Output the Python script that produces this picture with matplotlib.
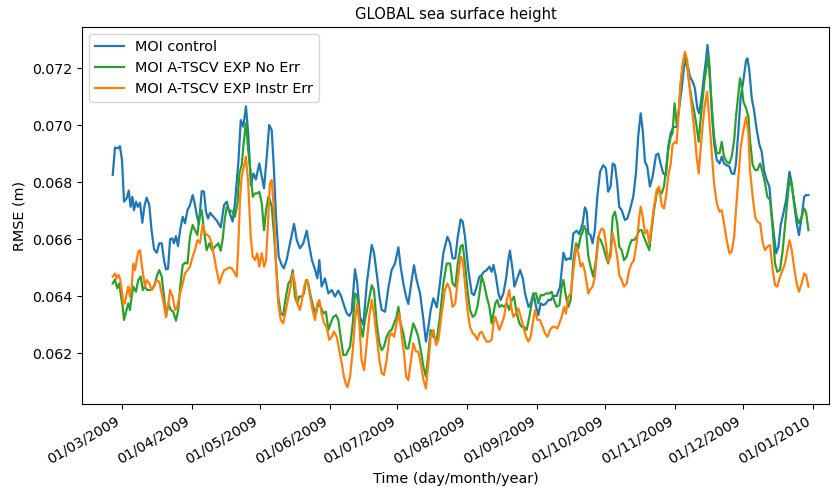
import datetime as dt
import matplotlib
matplotlib.use("Agg")
import matplotlib.pyplot as plt
import matplotlib.dates as mdates

# ---------------- data (days since 01/03/2009, RMSE in m) ----------------
ctrl_days = [-4.1, -3.1, -1.6, -0.9, 0.0, 0.9, 2.1, 3.0, 3.8, 4.6, 5.3, 6.2, 7.0, 8.0, 9.0, 9.9, 10.9, 12.1, 13.1, 14.2,
             15.4, 16.5, 17.6, 18.6, 19.5, 20.4, 21.3, 22.3, 23.0, 23.9, 24.8, 25.8, 26.9, 27.9, 29.0, 30.1, 31.3, 32.2, 33.1, 34.1,
             35.3, 36.3, 37.2, 38.1, 39.0, 40.5, 42.0, 43.7, 45.2, 46.4, 47.5, 49.0, 50.0, 51.5, 52.6, 53.7, 54.9, 55.9, 57.1, 58.2,
             59.3, 60.8, 61.9, 62.9, 64.1, 65.2, 66.3, 67.3, 68.2, 69.4, 70.7, 71.7, 72.9, 74.4, 76.2, 77.4, 78.8, 80.3, 81.8, 83.0,
             84.1, 85.5, 86.5, 87.4, 88.4, 89.9, 91.4, 92.9, 94.3, 95.8, 97.0, 98.0, 99.5, 100.7, 101.7, 103.2, 104.2, 105.4, 106.9, 108.4,
             110.6, 111.6, 112.8, 114.0, 115.0, 116.5, 118.0, 119.4, 120.9, 122.4, 123.4, 124.6, 125.8, 126.8, 128.3, 129.3, 130.5, 132.0, 133.5, 134.6,
             135.7, 136.7, 137.9, 139.4, 140.8, 142.3, 144.1, 145.3, 146.4, 147.6, 148.7, 150.0, 150.9, 151.9, 153.4, 154.9, 155.9, 157.1, 158.3, 159.3,
             160.3, 161.5, 162.7, 163.7, 164.5, 165.6, 166.7, 167.7, 168.9, 170.1, 171.1, 171.8, 173.0, 173.8, 174.8, 176.3, 177.5, 178.5, 180.0, 181.0,
             182.2, 183.4, 184.4, 185.4, 186.6, 187.8, 188.8, 189.9, 191.0, 192.5, 194.0, 195.5, 196.6, 197.7, 198.7, 199.9, 201.4, 202.5, 204.0, 205.0,
             205.8, 206.5, 207.5, 208.4, 209.4, 210.5, 211.7, 213.1, 214.3, 215.3, 216.4, 217.3, 218.3, 219.3, 220.2, 221.3, 222.7, 223.8, 224.9, 226.4,
             227.6, 228.6, 229.7, 230.6, 231.6, 232.6, 233.8, 235.0, 236.5, 237.5, 238.5, 239.7, 240.9, 241.9, 243.0, 244.1, 245.6, 246.8, 247.8, 248.9,
             249.7, 250.8, 251.5, 252.7, 253.7, 254.8, 255.6, 256.7, 257.7, 258.6, 259.3, 260.1, 261.2, 262.2, 263.4, 264.6, 265.6, 266.6, 267.8, 269.0,
             270.0, 271.1, 271.9, 273.0, 274.0, 275.2, 276.4, 277.0, 277.8, 278.9, 279.9, 281.1, 282.3, 283.3, 284.3, 285.5, 286.7, 287.7, 288.8, 289.7,
             290.7, 291.7, 292.9, 294.1, 295.6, 296.6, 297.6, 298.8, 299.8, 301.0, 302.1, 302.9, 304.0]
ctrl_vals = [0.06825, 0.06921, 0.06918, 0.06926, 0.06877, 0.06731, 0.06743, 0.06770, 0.06713, 0.06748, 0.06701, 0.06731, 0.06713, 0.06727, 0.06657, 0.06713, 0.06745, 0.06719, 0.06631, 0.06564,
             0.06552, 0.06585, 0.06585, 0.06526, 0.06493, 0.06496, 0.06599, 0.06602, 0.06585, 0.06610, 0.06575, 0.06634, 0.06678, 0.06655, 0.06701, 0.06719, 0.06754, 0.06725, 0.06684, 0.06653,
             0.06768, 0.06766, 0.06696, 0.06672, 0.06692, 0.06678, 0.06664, 0.06641, 0.06719, 0.06731, 0.06696, 0.06661, 0.06725, 0.06865, 0.07017, 0.06994, 0.07066, 0.06971, 0.06789, 0.06830,
             0.06809, 0.06865, 0.06819, 0.06778, 0.06889, 0.07000, 0.06982, 0.06842, 0.06678, 0.06538, 0.06509, 0.06497, 0.06526, 0.06585, 0.06653, 0.06596, 0.06567, 0.06585, 0.06629, 0.06573,
             0.06526, 0.06493, 0.06462, 0.06526, 0.06433, 0.06462, 0.06409, 0.06421, 0.06398, 0.06419, 0.06400, 0.06375, 0.06340, 0.06330, 0.06345, 0.06494, 0.06444, 0.06327, 0.06298, 0.06444,
             0.06579, 0.06552, 0.06479, 0.06398, 0.06351, 0.06345, 0.06430, 0.06491, 0.06514, 0.06571, 0.06503, 0.06444, 0.06398, 0.06372, 0.06456, 0.06508, 0.06456, 0.06409, 0.06316, 0.06240,
             0.06292, 0.06351, 0.06392, 0.06360, 0.06444, 0.06550, 0.06608, 0.06585, 0.06532, 0.06532, 0.06608, 0.06669, 0.06661, 0.06608, 0.06491, 0.06409, 0.06403, 0.06433, 0.06468, 0.06474,
             0.06485, 0.06491, 0.06503, 0.06485, 0.06509, 0.06468, 0.06409, 0.06386, 0.06409, 0.06462, 0.06526, 0.06559, 0.06491, 0.06433, 0.06456, 0.06491, 0.06462, 0.06409, 0.06362, 0.06374,
             0.06409, 0.06362, 0.06333, 0.06374, 0.06368, 0.06374, 0.06386, 0.06386, 0.06400, 0.06400, 0.06433, 0.06552, 0.06526, 0.06532, 0.06529, 0.06620, 0.06629, 0.06617, 0.06655, 0.06711,
             0.06696, 0.06620, 0.06614, 0.06585, 0.06631, 0.06748, 0.06836, 0.06859, 0.06848, 0.06766, 0.06784, 0.06865, 0.06859, 0.06795, 0.06713, 0.06701, 0.06667, 0.06672, 0.06701, 0.06748,
             0.06830, 0.06959, 0.07041, 0.06982, 0.06871, 0.06854, 0.06784, 0.06819, 0.06895, 0.06900, 0.06865, 0.06830, 0.06824, 0.06924, 0.06971, 0.06992, 0.06994, 0.07064, 0.07123, 0.07204,
             0.07222, 0.07199, 0.07170, 0.07152, 0.07129, 0.07058, 0.07041, 0.07099, 0.07170, 0.07228, 0.07281, 0.07216, 0.07041, 0.06936, 0.06877, 0.06865, 0.06889, 0.06865, 0.06859, 0.06854,
             0.06830, 0.06828, 0.06865, 0.06982, 0.07099, 0.07158, 0.07228, 0.07234, 0.07193, 0.07093, 0.07052, 0.06982, 0.06930, 0.06906, 0.06842, 0.06807, 0.06784, 0.06690, 0.06608, 0.06550,
             0.06573, 0.06649, 0.06690, 0.06737, 0.06836, 0.06795, 0.06725, 0.06655, 0.06614, 0.06678, 0.06748, 0.06754, 0.06754]

noerr_days = [-4.1, -3.1, -2.1, -1.2, -0.6, 0.3, 0.9, 1.8, 2.8, 3.5, 4.3, 5.0, 6.2, 7.2, 8.3, 9.2, 10.2, 11.2, 12.4, 13.6,
              14.6, 15.6, 16.5, 17.6, 18.6, 19.5, 20.5, 21.6, 22.7, 23.9, 24.9, 25.8, 26.9, 27.9, 29.0, 30.1, 31.3, 32.3, 33.4, 34.3,
              35.3, 36.3, 37.5, 38.7, 39.9, 41.2, 42.7, 43.7, 44.6, 45.5, 46.4, 47.5, 49.0, 50.0, 51.1, 52.0, 53.0, 54.0, 54.9, 55.9,
              57.0, 57.9, 58.9, 59.9, 60.8, 61.9, 62.9, 63.8, 64.8, 65.5, 66.3, 67.3, 68.2, 69.2, 70.3, 71.4, 72.6, 73.7, 74.7, 75.6,
              76.6, 77.6, 78.5, 79.6, 80.6, 81.5, 82.5, 83.6, 84.7, 85.9, 86.9, 88.0, 89.2, 90.3, 91.4, 92.4, 93.6, 94.8, 95.8, 96.8,
              98.0, 99.2, 100.2, 101.0, 102.2, 103.2, 104.2, 105.4, 106.6, 107.6, 109.1, 110.6, 111.6, 112.8, 114.0, 115.0, 116.0, 117.2, 118.4, 119.4,
              120.5, 121.6, 122.4, 123.4, 124.6, 125.8, 126.8, 127.8, 129.0, 130.2, 131.2, 132.3, 133.5, 134.6, 135.7, 136.7, 137.9, 139.4, 140.8, 142.3,
              143.8, 145.3, 146.4, 147.6, 148.7, 150.0, 150.9, 151.9, 153.0, 154.1, 155.3, 156.3, 157.4, 158.3, 159.3, 160.3, 161.5, 162.7, 163.7, 164.5,
              165.3, 166.2, 167.1, 168.2, 169.2, 170.4, 171.5, 172.6, 173.6, 174.8, 176.0, 177.0, 178.0, 179.2, 180.4, 181.4, 182.5, 183.4, 184.4, 185.4,
              186.6, 187.8, 189.3, 190.3, 191.3, 192.5, 193.7, 194.7, 195.5, 196.6, 197.7, 198.7, 199.9, 201.1, 202.1, 203.1, 204.0, 204.6, 205.5, 206.5,
              207.5, 208.7, 209.9, 210.9, 212.0, 213.1, 214.3, 215.3, 216.4, 217.3, 218.3, 219.3, 220.2, 221.3, 222.3, 223.5, 224.6, 225.7, 226.7, 227.9,
              229.1, 230.1, 231.1, 232.3, 233.5, 234.5, 235.6, 236.8, 237.9, 239.0, 240.0, 240.9, 241.9, 243.0, 243.8, 244.7, 245.6, 246.5, 247.4, 248.3,
              249.3, 250.3, 251.2, 252.3, 253.3, 254.5, 255.4, 256.2, 257.1, 258.0, 258.9, 259.6, 260.1, 261.2, 262.2, 263.4, 264.6, 265.6, 266.6, 267.8,
              269.0, 270.0, 271.1, 271.9, 273.0, 273.7, 274.5, 275.2, 276.4, 277.4, 278.1, 279.3, 280.4, 281.4, 282.6, 283.8, 284.8, 285.8, 287.0, 288.2,
              289.2, 290.2, 291.4, 292.6, 293.6, 294.7, 295.6, 296.6, 297.6, 298.8, 299.8, 301.0, 302.1, 302.9, 304.0]
noerr_vals = [0.06444, 0.06458, 0.06427, 0.06444, 0.06409, 0.06362, 0.06316, 0.06345, 0.06374, 0.06351, 0.06398, 0.06433, 0.06415, 0.06456, 0.06468, 0.06421, 0.06433, 0.06421, 0.06421, 0.06427,
              0.06444, 0.06474, 0.06491, 0.06468, 0.06398, 0.06327, 0.06374, 0.06351, 0.06345, 0.06313, 0.06351, 0.06433, 0.06509, 0.06517, 0.06514, 0.06608, 0.06649, 0.06631, 0.06614, 0.06678,
              0.06701, 0.06631, 0.06561, 0.06585, 0.06561, 0.06573, 0.06585, 0.06559, 0.06600, 0.06670, 0.06713, 0.06701, 0.06696, 0.06678, 0.06725, 0.06830, 0.06859, 0.06947, 0.07006, 0.06912,
              0.06830, 0.06748, 0.06760, 0.06760, 0.06766, 0.06725, 0.06631, 0.06701, 0.06748, 0.06737, 0.06713, 0.06620, 0.06514, 0.06398, 0.06339, 0.06333, 0.06398, 0.06444, 0.06456, 0.06491,
              0.06398, 0.06374, 0.06398, 0.06398, 0.06409, 0.06456, 0.06444, 0.06398, 0.06362, 0.06339, 0.06374, 0.06362, 0.06339, 0.06345, 0.06281, 0.06304, 0.06327, 0.06333, 0.06316, 0.06257,
              0.06193, 0.06193, 0.06210, 0.06222, 0.06304, 0.06409, 0.06398, 0.06304, 0.06257, 0.06316, 0.06374, 0.06438, 0.06421, 0.06304, 0.06234, 0.06210, 0.06222, 0.06257, 0.06275, 0.06281,
              0.06304, 0.06327, 0.06362, 0.06304, 0.06269, 0.06216, 0.06216, 0.06257, 0.06304, 0.06281, 0.06257, 0.06210, 0.06152, 0.06117, 0.06199, 0.06281, 0.06257, 0.06246, 0.06327, 0.06444,
              0.06514, 0.06514, 0.06444, 0.06433, 0.06514, 0.06575, 0.06579, 0.06514, 0.06421, 0.06351, 0.06327, 0.06333, 0.06362, 0.06409, 0.06468, 0.06444, 0.06398, 0.06362, 0.06304, 0.06339,
              0.06374, 0.06386, 0.06362, 0.06368, 0.06362, 0.06374, 0.06351, 0.06386, 0.06398, 0.06339, 0.06304, 0.06292, 0.06292, 0.06281, 0.06327, 0.06374, 0.06409, 0.06409, 0.06374, 0.06403,
              0.06403, 0.06409, 0.06409, 0.06415, 0.06386, 0.06362, 0.06368, 0.06433, 0.06456, 0.06398, 0.06362, 0.06386, 0.06526, 0.06585, 0.06567, 0.06608, 0.06625, 0.06646, 0.06631, 0.06540,
              0.06503, 0.06468, 0.06526, 0.06608, 0.06596, 0.06573, 0.06538, 0.06514, 0.06561, 0.06678, 0.06696, 0.06655, 0.06573, 0.06561, 0.06526, 0.06538, 0.06573, 0.06596, 0.06596, 0.06608,
              0.06631, 0.06631, 0.06608, 0.06585, 0.06561, 0.06631, 0.06701, 0.06760, 0.06772, 0.06760, 0.06784, 0.06842, 0.06912, 0.06959, 0.06971, 0.07076, 0.07006, 0.07041, 0.07146, 0.07204,
              0.07251, 0.07204, 0.07146, 0.07088, 0.07052, 0.06994, 0.06941, 0.07017, 0.07088, 0.07158, 0.07204, 0.07245, 0.07193, 0.07064, 0.06959, 0.06901, 0.06901, 0.06941, 0.06889, 0.06871,
              0.06865, 0.06889, 0.06947, 0.07029, 0.07111, 0.07164, 0.07134, 0.07082, 0.07058, 0.07029, 0.06947, 0.06859, 0.06842, 0.06842, 0.06865, 0.06830, 0.06795, 0.06748, 0.06737, 0.06631,
              0.06514, 0.06485, 0.06491, 0.06561, 0.06643, 0.06737, 0.06813, 0.06784, 0.06737, 0.06678, 0.06655, 0.06678, 0.06707, 0.06696, 0.06631]

instr_days = [-4.1, -3.1, -2.4, -1.6, -0.9, -0.1, 0.6, 1.3, 2.1, 2.8, 3.5, 4.3, 5.0, 5.8, 6.5, 7.2, 8.0, 8.7, 9.5, 10.2,
              10.9, 12.1, 13.1, 14.2, 15.4, 16.5, 17.6, 18.6, 19.5, 20.4, 21.3, 22.4, 23.5, 24.5, 25.7, 26.9, 27.9, 29.0, 30.1, 31.3,
              32.3, 33.4, 34.5, 35.7, 36.8, 37.8, 38.7, 39.7, 40.8, 41.9, 43.1, 44.1, 45.2, 46.4, 47.5, 48.6, 49.6, 50.8, 51.5, 52.3,
              53.0, 54.0, 54.9, 55.9, 57.0, 57.9, 58.9, 59.9, 60.8, 61.9, 62.9, 63.8, 64.8, 65.5, 66.3, 67.3, 68.2, 69.2, 70.3, 71.4,
              72.6, 73.7, 74.7, 75.6, 76.6, 77.6, 78.8, 80.0, 81.0, 82.1, 83.3, 84.4, 85.5, 86.5, 87.4, 88.4, 89.5, 90.6, 91.8, 92.9,
              93.9, 95.1, 96.2, 97.3, 98.3, 99.2, 99.8, 101.0, 102.2, 103.2, 104.2, 105.1, 106.1, 107.2, 108.4, 109.5, 110.6, 111.6, 112.8, 114.0,
              115.0, 116.0, 117.2, 118.4, 119.4, 120.5, 121.6, 122.8, 123.9, 124.9, 125.8, 126.8, 127.8, 129.0, 130.2, 131.2, 132.3, 133.5, 134.6, 135.7,
              136.7, 137.9, 139.1, 140.1, 141.6, 143.0, 144.1, 145.3, 146.4, 147.6, 148.7, 150.0, 150.9, 151.9, 153.0, 154.1, 155.3, 156.3, 157.4, 158.3,
              159.3, 160.3, 161.5, 162.7, 163.7, 164.5, 165.3, 166.2, 167.1, 168.2, 169.2, 170.4, 171.5, 172.6, 173.3, 174.5, 175.5, 176.6, 177.7, 178.9,
              180.0, 181.0, 181.9, 182.9, 184.0, 185.1, 186.3, 187.3, 188.4, 189.6, 190.7, 191.8, 192.8, 193.7, 194.7, 195.8, 196.6, 197.7, 198.7, 199.9,
              201.1, 202.1, 203.1, 204.0, 205.0, 205.8, 206.5, 207.2, 208.4, 209.4, 210.5, 211.4, 212.4, 213.4, 214.3, 215.3, 216.4, 217.3, 218.3, 219.3,
              220.2, 221.3, 222.3, 223.5, 224.6, 225.7, 226.7, 227.9, 229.1, 229.7, 230.6, 231.6, 232.6, 233.5, 234.5, 235.6, 236.8, 237.9, 239.0, 240.0,
              240.9, 241.9, 243.0, 243.8, 244.9, 245.6, 246.5, 247.4, 248.3, 249.3, 250.3, 251.2, 252.3, 253.3, 254.5, 255.4, 256.2, 257.1, 258.0, 259.1,
              260.1, 261.2, 262.2, 263.4, 264.6, 265.6, 266.6, 267.8, 269.0, 270.0, 271.1, 271.9, 273.0, 274.0, 275.2, 276.4, 277.4, 278.1, 279.3, 280.4,
              281.4, 282.6, 283.8, 284.8, 285.8, 287.0, 288.2, 289.2, 290.2, 291.4, 292.6, 293.6, 294.7, 295.6, 296.6, 297.6, 298.8, 299.8, 301.0, 302.1,
              302.9, 304.0]
instr_vals = [0.06468, 0.06479, 0.06462, 0.06474, 0.06462, 0.06421, 0.06372, 0.06374, 0.06409, 0.06433, 0.06398, 0.06433, 0.06514, 0.06491, 0.06526, 0.06555, 0.06561, 0.06514, 0.06468, 0.06433,
              0.06456, 0.06444, 0.06421, 0.06433, 0.06456, 0.06450, 0.06409, 0.06368, 0.06327, 0.06362, 0.06421, 0.06398, 0.06351, 0.06362, 0.06409, 0.06444, 0.06479, 0.06491, 0.06503, 0.06538,
              0.06561, 0.06596, 0.06585, 0.06649, 0.06620, 0.06614, 0.06608, 0.06585, 0.06538, 0.06491, 0.06444, 0.06470, 0.06490, 0.06495, 0.06500, 0.06497, 0.06485, 0.06468, 0.06573, 0.06748,
              0.06819, 0.06854, 0.06889, 0.06795, 0.06608, 0.06538, 0.06526, 0.06550, 0.06503, 0.06550, 0.06503, 0.06526, 0.06678, 0.06795, 0.06807, 0.06701, 0.06514, 0.06374, 0.06316, 0.06304,
              0.06351, 0.06398, 0.06433, 0.06479, 0.06444, 0.06374, 0.06351, 0.06398, 0.06444, 0.06456, 0.06398, 0.06351, 0.06316, 0.06374, 0.06386, 0.06339, 0.06304, 0.06292, 0.06246, 0.06257,
              0.06275, 0.06257, 0.06210, 0.06164, 0.06117, 0.06090, 0.06080, 0.06117, 0.06210, 0.06316, 0.06374, 0.06304, 0.06175, 0.06140, 0.06234, 0.06327, 0.06386, 0.06339, 0.06257, 0.06175,
              0.06129, 0.06123, 0.06175, 0.06257, 0.06269, 0.06257, 0.06304, 0.06339, 0.06257, 0.06199, 0.06117, 0.06105, 0.06164, 0.06234, 0.06205, 0.06205, 0.06164, 0.06105, 0.06076, 0.06164,
              0.06257, 0.06281, 0.06228, 0.06246, 0.06339, 0.06421, 0.06444, 0.06421, 0.06362, 0.06374, 0.06456, 0.06538, 0.06526, 0.06444, 0.06351, 0.06292, 0.06269, 0.06263, 0.06246, 0.06269,
              0.06275, 0.06257, 0.06240, 0.06240, 0.06246, 0.06304, 0.06327, 0.06304, 0.06281, 0.06304, 0.06327, 0.06386, 0.06421, 0.06351, 0.06327, 0.06339, 0.06357, 0.06327, 0.06292, 0.06257,
              0.06240, 0.06257, 0.06304, 0.06351, 0.06316, 0.06316, 0.06292, 0.06269, 0.06257, 0.06281, 0.06292, 0.06292, 0.06286, 0.06304, 0.06327, 0.06362, 0.06339, 0.06398, 0.06409, 0.06491,
              0.06573, 0.06550, 0.06503, 0.06515, 0.06485, 0.06444, 0.06409, 0.06421, 0.06433, 0.06468, 0.06561, 0.06620, 0.06637, 0.06631, 0.06585, 0.06520, 0.06538, 0.06620, 0.06585, 0.06538,
              0.06474, 0.06456, 0.06433, 0.06444, 0.06491, 0.06514, 0.06526, 0.06585, 0.06678, 0.06713, 0.06678, 0.06620, 0.06631, 0.06585, 0.06643, 0.06713, 0.06772, 0.06784, 0.06719, 0.06707,
              0.06748, 0.06819, 0.06865, 0.06930, 0.06941, 0.06936, 0.07041, 0.07146, 0.07216, 0.07257, 0.07228, 0.07146, 0.07064, 0.06994, 0.06889, 0.06830, 0.06912, 0.06994, 0.07064, 0.07117,
              0.07017, 0.06901, 0.06795, 0.06725, 0.06696, 0.06701, 0.06655, 0.06596, 0.06550, 0.06555, 0.06608, 0.06701, 0.06818, 0.06924, 0.06982, 0.07029, 0.06971, 0.06842, 0.06748, 0.06678,
              0.06661, 0.06655, 0.06585, 0.06561, 0.06573, 0.06579, 0.06491, 0.06438, 0.06433, 0.06468, 0.06491, 0.06514, 0.06561, 0.06596, 0.06561, 0.06503, 0.06444, 0.06415, 0.06444, 0.06479,
              0.06474, 0.06433]

series_labels = ["MOI control", "MOI A-TSCV EXP No Err", "MOI A-TSCV EXP Instr Err"]
series_colors = ["#1f77b4", "#2ca02c", "#ff7f0e"]
y_ticks = [0.062, 0.064, 0.066, 0.068, 0.070, 0.072]
start_date = dt.datetime(2009, 3, 1)

# ---------------- plot ----------------
plt.rcParams["font.family"] = ["DejaVu Sans"]
plt.rcParams["font.size"] = 10.4

fig, ax = plt.subplots(figsize=(8.31, 4.87), dpi=100)
fig.subplots_adjust(left=0.0987, right=0.9976, top=0.9446, bottom=0.1704)

base = mdates.date2num(start_date)

def to_num(days):
    return [base + d for d in days]

for days, vals, lab, col in zip([ctrl_days, noerr_days, instr_days],
                                [ctrl_vals, noerr_vals, instr_vals],
                                series_labels, series_colors):
    ax.plot(to_num(days), vals, color=col, label=lab, lw=1.6)

ax.xaxis.set_major_locator(mdates.MonthLocator())
ax.xaxis.set_major_formatter(mdates.DateFormatter("%d/%m/%Y"))
for lab in ax.get_xticklabels():
    lab.set_rotation(30)
    lab.set_ha("right")
ax.set_xlim(base - 17.7, base + 313.1)
ax.set_ylim(0.06021, 0.07344)
ax.set_yticks(y_ticks)
ax.set_yticklabels([f"{t:.3f}" for t in y_ticks])
ax.tick_params(labelsize=10.2)

ax.set_title("GLOBAL sea surface height", fontsize=10.6)
ax.set_xlabel("Time (day/month/year)")
ax.set_ylabel("RMSE (m)")
ax.legend(loc="upper left")

fig.savefig("out.png", dpi=100)
